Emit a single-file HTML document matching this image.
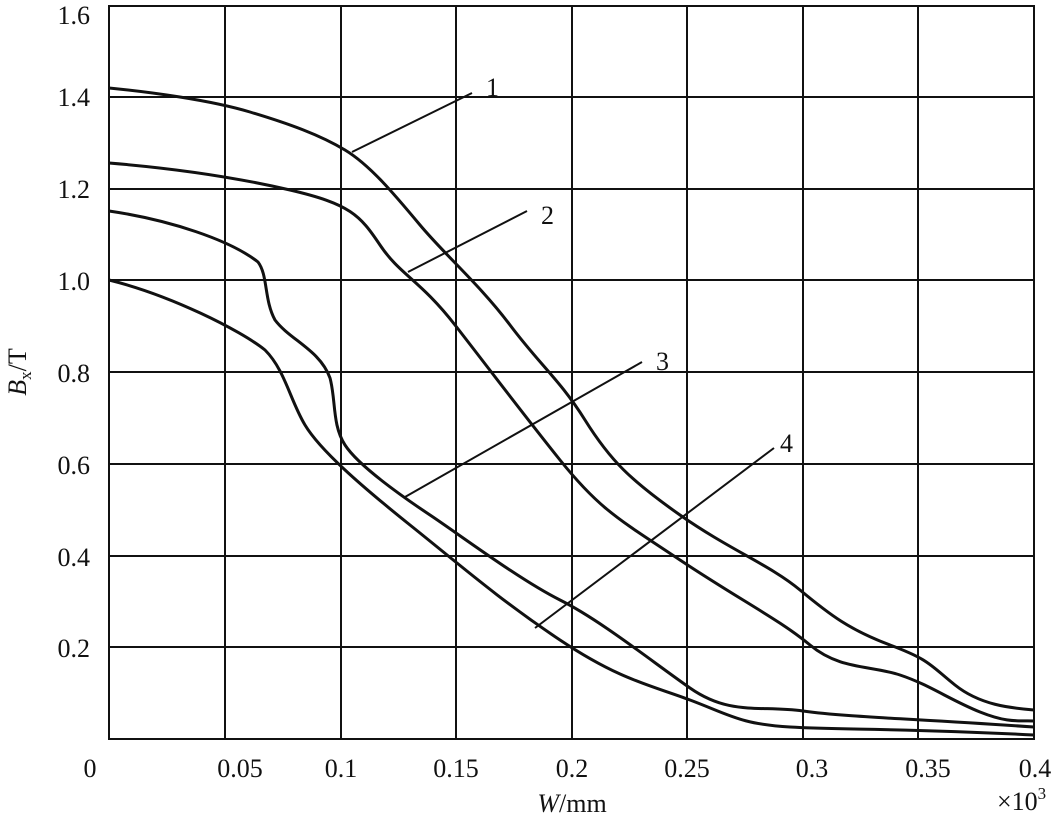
<!DOCTYPE html><html><head><style>body{margin:0;background:#fff}svg{display:block}text{font-family:"Liberation Serif",serif;font-size:26px;fill:#111}</style></head><body>
<svg width="1061" height="816" viewBox="0 0 1061 816">
<g stroke="#111" stroke-width="2" fill="none">
<rect x="109" y="6" width="925" height="733"/>
<path d="M225 6V739M341 6V739M456 6V739M572 6V739M687 6V739M803 6V739M918 6V739M109 97H1034M109 189H1034M109 280H1034M109 372H1034M109 464H1034M109 556H1034M109 647H1034"/>
</g>
<g stroke="#111" stroke-width="3" fill="none" stroke-linejoin="round">
<path d="M109,88 C150,92 210,100 250,112 S320,135 345,150 S395,195 420,225 S480,285 510,325 S560,380 585,420 S630,480 680,515 S770,565 800,590 S850,630 890,645 S930,665 955,685 S1010,708 1034,710"/>
<path d="M109,163 C170,168 230,176 290,190 S360,215 380,245 S420,280 455,325 S520,410 560,460 S620,520 680,560 S780,620 810,645 S870,665 900,675 S950,700 980,712 S1020,720 1034,721"/>
<path d="M109,211 C170,220 230,240 258,262 C268,275 264,300 275,320 C290,340 320,350 330,378 C336,400 332,425 345,445 S400,495 430,515 S520,580 560,600 S650,660 690,688 S760,705 803,711 S900,718 1034,727"/>
<path d="M109,280 C170,295 240,330 265,350 C285,370 290,400 305,425 S360,485 410,525 S500,600 560,640 S650,685 690,700 S740,724 790,727 S900,728 1034,735"/>
</g>
<g stroke="#111" stroke-width="2"><path d="M352,152L472,93M408,272L527,211M405,497L642,362M535,628L774,448"/></g>
<text x="486" y="96">1</text><text x="541" y="224">2</text><text x="656" y="370">3</text><text x="780" y="452">4</text>
<g text-anchor="end"><text x="90" y="24">1.6</text><text x="90" y="106">1.4</text><text x="90" y="198">1.2</text><text x="90" y="290">1.0</text><text x="90" y="382">0.8</text><text x="90" y="474">0.6</text><text x="90" y="566">0.4</text><text x="90" y="657">0.2</text></g>
<g text-anchor="middle"><text x="90" y="777">0</text><text x="240" y="777">0.05</text><text x="341" y="777">0.1</text><text x="456" y="777">0.15</text><text x="572" y="777">0.2</text><text x="687" y="777">0.25</text><text x="812" y="777">0.3</text><text x="928" y="777">0.35</text><text x="1035" y="777">0.4</text>
<text x="572" y="812"><tspan font-style="italic">W</tspan>/mm</text></g>
<text x="997" y="810">×10<tspan font-size="17" dy="-11">3</tspan></text>
<text transform="translate(26,372) rotate(-90)" text-anchor="middle"><tspan font-style="italic">B</tspan><tspan font-size="17" dy="5">x</tspan><tspan dy="-5">/T</tspan></text>
</svg></body></html>
